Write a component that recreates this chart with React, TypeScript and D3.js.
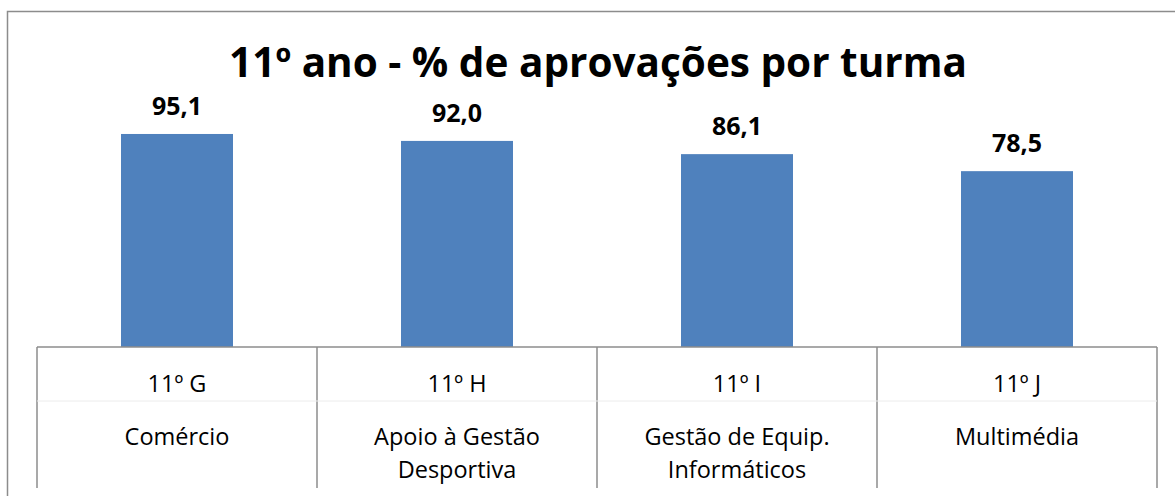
import { useEffect, useRef } from 'react';
import * as d3 from 'd3';

const turmas = ['11º G', '11º H', '11º I', '11º J'];
const cursos = [['Comércio'], ['Apoio à Gestão', 'Desportiva'], ['Gestão de Equip.', 'Informáticos'], ['Multimédia']];
const aprovacoes = [95.1, 92.0, 86.1, 78.5];

const W = 1175;
const H = 496;
const FONT = '"Open Sans", "Noto Sans", sans-serif';

export default function App() {
  const svgRef = useRef<SVGSVGElement>(null);

  useEffect(() => {
    if (!svgRef.current) return;
    const svg = d3.select(svgRef.current);
    svg.selectAll('*').remove();

    const left = 37;
    const right = 1157;
    const base = 347;

    // moldura
    svg.append('rect')
      .attr('x', 7.5).attr('y', 11.5)
      .attr('width', W + 20).attr('height', H + 20)
      .attr('fill', 'white')
      .attr('stroke', '#8c8c8c')
      .attr('stroke-width', 1.5);

    const x = d3.scaleBand<string>().domain(turmas).range([left, right]).padding(0);
    const xBar = d3.scaleBand<string>().domain(turmas).range([left, right])
      .paddingInner(0.6).paddingOuter(0.3);
    const y = d3.scaleLinear().domain([0, 100]).range([base, base - 224]);

    // título
    svg.append('text')
      .attr('x', 598)
      .attr('y', 77)
      .attr('text-anchor', 'middle')
      .attr('font-family', FONT)
      .attr('font-weight', 'bold')
      .attr('font-size', '40.5px')
      .attr('fill', '#000')
      .text('11º ano - % de aprovações por turma');

    // barras
    svg.selectAll('.bar')
      .data(aprovacoes)
      .enter()
      .append('rect')
      .attr('x', (_d, i) => xBar(turmas[i])!)
      .attr('y', (d) => y(d))
      .attr('width', xBar.bandwidth())
      .attr('height', (d) => base - y(d))
      .attr('fill', '#4F81BD');

    // rótulos de valor
    svg.selectAll('.val')
      .data(aprovacoes)
      .enter()
      .append('text')
      .attr('x', (_d, i) => xBar(turmas[i])! + xBar.bandwidth() / 2)
      .attr('y', (d) => y(d) - 19)
      .attr('text-anchor', 'middle')
      .attr('font-family', FONT)
      .attr('font-weight', 'bold')
      .attr('font-size', '25px')
      .attr('fill', '#000')
      .text((d) => d.toFixed(1).replace('.', ','));

    // eixo em tabela
    const grid = svg.append('g').attr('stroke', '#8c8c8c').attr('stroke-width', 1.5);
    grid.append('line').attr('x1', left).attr('x2', right).attr('y1', base).attr('y2', base);
    svg.append('line').attr('x1', left).attr('x2', right).attr('y1', 401).attr('y2', 401)
      .attr('stroke', '#ececec').attr('stroke-width', 1);
    [...turmas.map((t) => x(t)!), right].forEach((vx) => {
      grid.append('line').attr('x1', vx).attr('x2', vx).attr('y1', base).attr('y2', 488);
    });

    turmas.forEach((t, i) => {
      const cx = x(t)! + x.bandwidth() / 2;
      svg.append('text')
        .attr('x', cx).attr('y', 392)
        .attr('text-anchor', 'middle')
        .attr('font-family', FONT)
        .attr('font-size', '23.5px')
        .attr('fill', '#000')
        .text(t);
      cursos[i].forEach((linha, j) => {
        svg.append('text')
          .attr('x', cx).attr('y', 445 + j * 33)
          .attr('text-anchor', 'middle')
          .attr('font-family', FONT)
          .attr('font-size', '23.5px')
          .attr('fill', '#000')
          .text(linha);
      });
    });
  }, []);

  return (
    <svg ref={svgRef} width={W} height={H}
      style={{ position: 'absolute', left: 0, top: 0, background: 'white' }} />
  );
}
